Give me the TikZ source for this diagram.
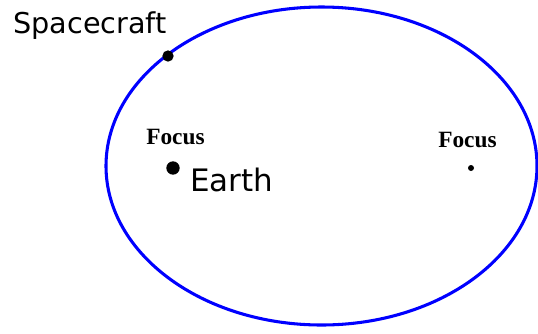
\documentclass[tikz,border=0pt]{standalone}
\usepackage{fontspec}
\setmainfont{DejaVu Sans}
\newfontfamily\focusfont{Liberation Serif}
\begin{document}
\begin{tikzpicture}[x=0.75pt,y=-0.75pt,
  orbit/.style={draw=blue,line width=2.3pt},
  dotbig/.style={circle,fill=black,inner sep=0pt,minimum size=#1},
  lbl/.style={anchor=base west,inner sep=0pt,text=black},
  foc/.style={lbl,font=\focusfont\bfseries\fontsize{17.5pt}{20pt}\selectfont}]
\useasboundingbox (0,0) rectangle (538,333);
\fill[white] (0,0) rectangle (538,333);
\draw[orbit] (321.5,166) ellipse [x radius=215.5, y radius=159];
\node[dotbig=8.5pt] (sc) at (168,56) {};
\node[dotbig=10pt] (earth) at (173,168) {};
\node[dotbig=4.5pt] (f2) at (471,168) {};
\node[lbl,font=\fontsize{21.5pt}{24pt}\selectfont] (sclbl) at (13,33) {Spacecraft};
\node[lbl,font=\fontsize{23.2pt}{26pt}\selectfont] (elbl) at (190,191) {Earth};
\node[foc] (f1lbl) at (146,144.5) {Focus};
\node[foc] (f2lbl) at (438,147) {Focus};
\end{tikzpicture}
\end{document}
